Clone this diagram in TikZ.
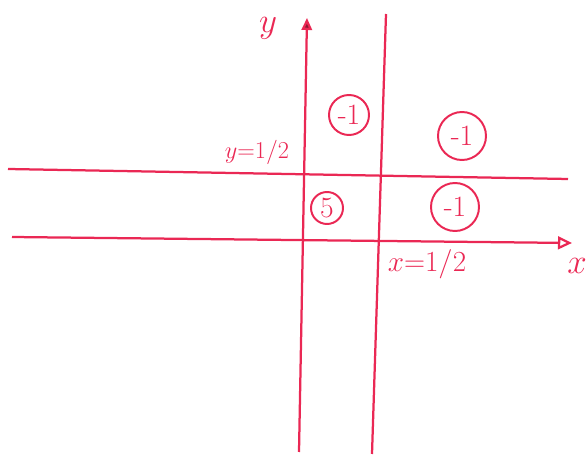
\documentclass[tikz,border=0pt]{standalone}
\usepackage{amsmath,amssymb}
\usepackage{tikz}
\usetikzlibrary{arrows.meta}

\definecolor{penred}{RGB}{234,40,84}

\begin{document}
\begin{tikzpicture}[x=0.025cm, y=-0.025cm, every node/.style={text=penred},
	pen/.style={draw=penred, line width=1.6pt},
	region/.style={circle, draw=penred, line width=1.4pt, inner sep=0.5pt, minimum size=40*0.025cm, font=\fontsize{21}{24}\selectfont}]
	\useasboundingbox (0,0) rectangle (586,457);
	% axes and the two half lines
	\coordinate (xl) at (12,237);
	\coordinate (xr) at (572,243);
	\coordinate (yb) at (299,452);
	\coordinate (yt) at (307,18);
	\coordinate (hl) at (8,169);
	\coordinate (hr) at (568,179);
	\coordinate (vb) at (372,454);
	\coordinate (vt) at (386,14);
	\draw[pen, -{Triangle[open, length=3.5mm, width=3.2mm]}] (xl) -- (xr);
	\draw[pen, -{Triangle[length=3mm, width=2.6mm, fill=penred!60!black]}] (yb) -- (yt);
	\draw[pen] (hl) -- (hr);
	\draw[pen] (vb) -- (vt);
	% labels
	\node[font=\fontsize{32}{36}\selectfont] (ylab) at (268,28) {$y$};
	\node[font=\fontsize{30}{34}\selectfont] (xlab) at (577,266) {$x$};
	\node[font=\fontsize{17}{20}\selectfont] (yhalf) at (257,152) {$y{=}1/2$};
	\node[font=\fontsize{22}{26}\selectfont] (xhalf) at (427,264) {$x{=}1/2$};
	% signs of the regions
	\node[region] (topmid) at (349,115) {-1};
	\node[region, minimum size=48*0.025cm] (topright) at (462,136) {-1};
	\node[region, minimum size=32*0.025cm] (botmid) at (327,208) {5};
	\node[region, minimum size=48*0.025cm] (botright) at (455,207) {-1};
\end{tikzpicture}
\end{document}
